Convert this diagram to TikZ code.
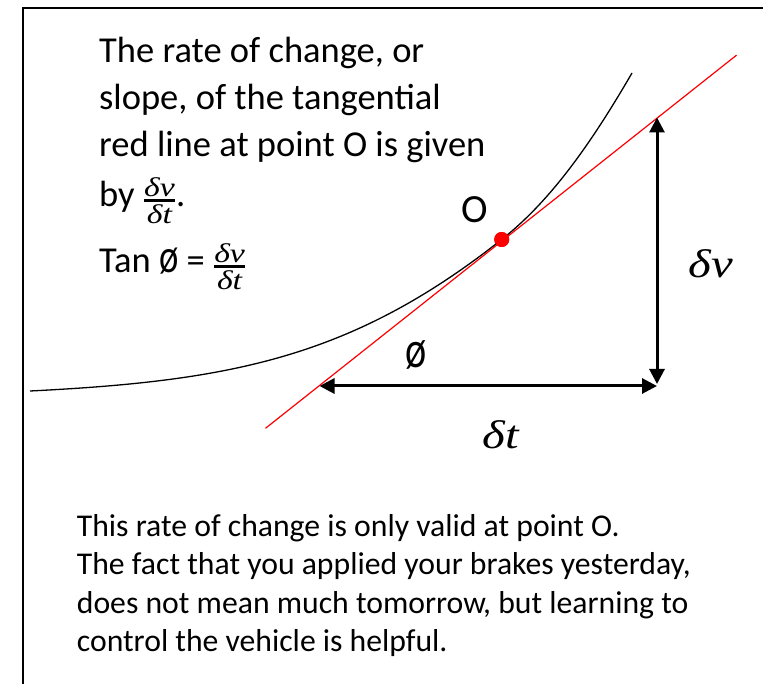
\documentclass[tikz,border=0pt]{standalone}
\usepackage{graphicx}
\usepackage{fontspec}
\setmainfont{Carlito}
\newfontfamily\symfont{Liberation Serif}
\newcommand\mvar[1]{{\symfont\itshape #1}}
\newcommand\widen[1]{\scalebox{1.22}[1]{#1}}
\newcommand\fracpart[1]{\hbox{\fontsize{27}{27}\selectfont\scalebox{1.25}[1]{\mvar{#1}}}}
\newcommand\tallo{\scalebox{1}[1.3]{ø}}
\newcommand\dvdt{\ensuremath{{\fracpart{δv}\above 2.6pt\fracpart{δt}}}}
\usetikzlibrary{arrows.meta}
\begin{document}
\begin{tikzpicture}[x=1pt,y=-1pt,
  toptext/.style={anchor=base west,inner sep=0pt,font=\fontsize{36.5}{44}\selectfont},
  bottext/.style={anchor=base west,inner sep=0pt,font=\fontsize{31.7}{38}\selectfont},
  biglabel/.style={inner sep=0pt,font=\fontsize{40}{48}\selectfont},
  dimarrow/.style={line width=3pt,{Triangle[length=15pt,width=15pt]}-{Triangle[length=15pt,width=15pt]}},
  tangent/.style={red,line width=1.2pt},
  curveline/.style={black,line width=1.3pt},
  frame/.style={black,line width=2.3pt}]
\useasboundingbox (0,0) rectangle (763,684);
% frame (only top and left edges visible)
\draw[frame] (23.3,690) -- (23.3,8.3) -- (770,8.3);
% point O
\node[circle,fill=red,minimum size=15pt,inner sep=0pt] (O) at (501.7,239.5) {};
% curve
\coordinate (cstart) at (30,391);
\coordinate (cend) at (632,73);
\draw[curveline] (cstart) .. controls (230,381) and (351.7,358) .. (O.center)
  .. controls (551.7,200) and (592,141.8) .. (cend);
% tangent
\coordinate (r1) at (265.5,428.3);
\coordinate (r2) at (736.5,55.2);
\draw[tangent] (r1) -- (r2);
\fill[red] (O.center) circle (7.5pt);
\node[inner sep=0pt,font=\fontsize{40}{48}\selectfont] (Olab) at (475,210) {O};
% dimension arrows
\coordinate (vtop) at (657,117.5);
\coordinate (vbot) at (657,384);
\coordinate (hleft) at (319.5,386);
\coordinate (hright) at (657,386);
\draw[dimarrow] (vtop) -- (vbot);
\draw[dimarrow] (hleft) -- (hright);
\node[biglabel] (dv) at (711,264) {\widen{\mvar{δv}}};
\node[biglabel] (dt) at (501,435) {\widen{\mvar{δt}}};
\node[inner sep=0pt,font=\fontsize{40}{48}\selectfont] (phi) at (416,355) {\tallo};
% top text
\node[toptext] (l1) at (99,62.7) {The rate of change, or};
\node[toptext] (l2) at (99,109.3) {slope, of the tangential};
\node[toptext] (l3) at (99,156.7) {red line at point O is given};
\node[toptext] (l4) at (99,207) {by \dvdt.};
\node[toptext] (l5) at (99,272.5) {Tan \tallo{} = \dvdt};
% bottom text
\node[bottext] (b1) at (76.7,536) {This rate of change is only valid at point O.};
\node[bottext] (b2) at (76.7,574.5) {The fact that you applied your brakes yesterday,};
\node[bottext] (b3) at (76.7,613) {does not mean much tomorrow, but learning to};
\node[bottext] (b4) at (76.7,651.5) {control the vehicle is helpful.};
\end{tikzpicture}
\end{document}
